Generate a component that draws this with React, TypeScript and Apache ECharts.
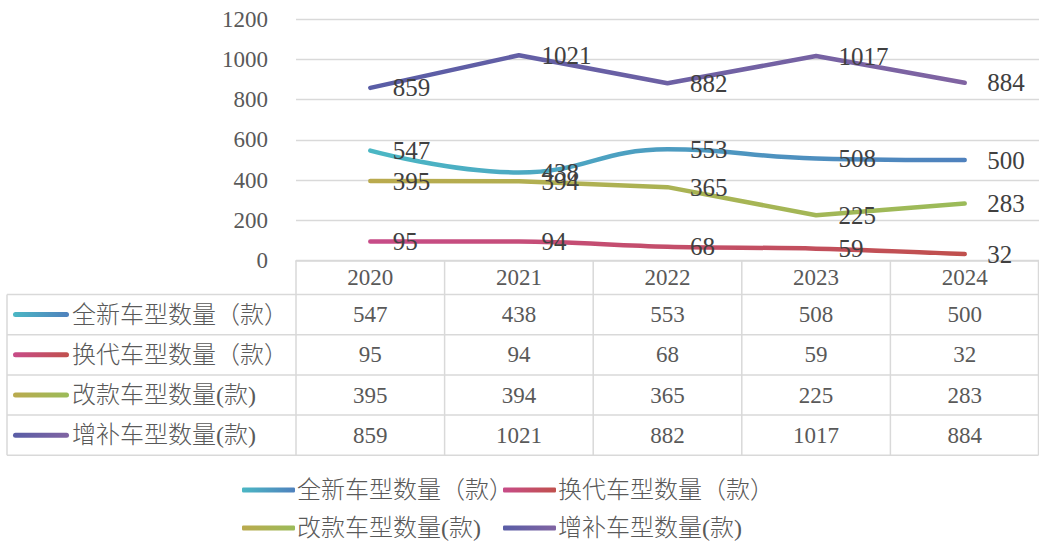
import React, { useEffect, useRef } from 'react';
import * as echarts from 'echarts';

// ---- data ----
const years = ['2020', '2021', '2022', '2023', '2024'];
const seriesNames = ['全新车型数量（款）', '换代车型数量（款）', '改款车型数量(款)', '增补车型数量(款)'];
const newModels = [547, 438, 553, 508, 500];
const replacementModels = [95, 94, 68, 59, 32];
const faceliftModels = [395, 394, 365, 225, 283];
const addedModels = [859, 1021, 882, 1017, 884];
const yMin = 0;
const yMax = 1200;
const yInterval = 200;

// ---- styles ----
const gradientStops: [string, string][] = [
  ['#4BB7C4', '#4F81BD'],
  ['#C74C88', '#C0504D'],
  ['#BAAA4E', '#9BBB59'],
  ['#595DA6', '#8064A2'],
];
const smoothFlags = [0.45, 0.35, false, false];

const SERIF = "'Liberation Serif', 'Times New Roman', serif";
const MIXED = "'Liberation Serif', 'Noto Sans CJK SC', sans-serif";
const GRID_COLOR = '#D9D9D9';
const TEXT_COLOR = '#595959';
const CJK_SIZE = 24;

const grad = (i: number) =>
  new echarts.graphic.LinearGradient(0, 0, 1, 0, [
    { offset: 0, color: gradientStops[i][0] },
    { offset: 1, color: gradientStops[i][1] },
  ]);

export default function App() {
  const ref = useRef<HTMLDivElement>(null);

  useEffect(() => {
    if (!ref.current) return;
    const chart = echarts.init(ref.current, null, { renderer: 'svg' });
    const allData = [newModels, replacementModels, faceliftModels, addedModels];

    chart.setOption({
      animation: false,
      grid: { left: 296, right: 0, top: 19.3, bottom: 281.5, containLabel: false },
      xAxis: {
        type: 'category',
        data: years,
        boundaryGap: true,
        axisLine: { show: true, lineStyle: { color: GRID_COLOR, width: 1.5 } },
        axisTick: { show: false },
        axisLabel: { color: TEXT_COLOR, fontSize: 23, fontFamily: SERIF, margin: 5 },
        splitLine: { show: false },
      },
      yAxis: {
        type: 'value',
        min: yMin,
        max: yMax,
        interval: yInterval,
        axisLine: { show: false },
        axisTick: { show: false },
        axisLabel: {
          color: TEXT_COLOR,
          fontSize: 23,
          fontFamily: SERIF,
          margin: 28,
          formatter: (v: number) => String(v),
        },
        splitLine: { lineStyle: { color: GRID_COLOR, width: 1.3 } },
      },
      legend: seriesNames.map((n, i) => ({
        data: [n],
        left: i % 2 === 0 ? 242 : 503,
        top: i < 2 ? 478 : 516,
        icon: 'roundRect',
        itemWidth: 53,
        itemHeight: 5,
        itemGap: 0,
        padding: 0,
        selectedMode: false,
        itemStyle: { color: grad(i) },
        textStyle: {
          color: TEXT_COLOR,
          fontSize: CJK_SIZE,
          fontWeight: 300,
          fontFamily: MIXED,
          padding: [0, 0, 0, -3],
        },
      })),
      series: allData.map((d, i) => ({
        name: seriesNames[i],
        type: 'line',
        data: d,
        smooth: smoothFlags[i],
        symbol: 'circle',
        symbolSize: 1,
        itemStyle: { color: 'rgba(0,0,0,0)' },
        lineStyle: { width: 4.5, color: grad(i), cap: 'round', join: 'round' },
        label: {
          show: true,
          position: 'right',
          distance: 22,
          color: '#404040',
          fontSize: 25,
          fontFamily: SERIF,
        },
        z: 2,
      })),
    });

    // ---- data table under the plot, positioned through the axis scales ----
    const centers = years.map((y) => chart.convertToPixel({ xAxisIndex: 0 }, y) as number);
    const band = centers.length > 1 ? centers[1] - centers[0] : 148;
    const bounds = [centers[0] - band / 2, ...centers.map((c) => c + band / 2)];
    const top = chart.convertToPixel({ yAxisIndex: 0 }, 0) as number;
    const headerH = 34;
    const rowH = 40.2;
    const leftX = 7;
    const rightX = Math.min(bounds[bounds.length - 1], 1038.5);
    const rowTops = allData.map((_, r) => top + headerH + r * rowH);
    const tableBottom = top + headerH + allData.length * rowH;

    const graphics: any[] = [];
    const lineStyle = { stroke: GRID_COLOR, lineWidth: 1.5 };
    [...rowTops, tableBottom].forEach((y) => {
      graphics.push({ type: 'line', shape: { x1: leftX, y1: y, x2: rightX, y2: y }, style: lineStyle, silent: true });
    });
    graphics.push({ type: 'line', shape: { x1: leftX, y1: rowTops[0], x2: leftX, y2: tableBottom }, style: lineStyle, silent: true });
    bounds.forEach((b, k) => {
      const x = k === bounds.length - 1 ? rightX : b;
      graphics.push({ type: 'line', shape: { x1: x, y1: top, x2: x, y2: tableBottom }, style: lineStyle, silent: true });
    });
    allData.forEach((d, r) => {
      const cy = rowTops[r] + rowH / 2;
      graphics.push({
        type: 'rect',
        shape: { x: 13, y: cy - 2.5, width: 56, height: 5, r: 2.5 },
        style: { fill: grad(r) },
        silent: true,
      });
      graphics.push({
        type: 'text',
        x: 72,
        y: cy,
        style: {
          text: seriesNames[r],
          fill: TEXT_COLOR,
          font: `300 ${CJK_SIZE}px ${MIXED}`,
          verticalAlign: 'middle',
          align: 'left',
        },
        silent: true,
      });
      d.forEach((v, c) => {
        graphics.push({
          type: 'text',
          x: centers[c],
          y: cy,
          style: { text: String(v), fill: TEXT_COLOR, font: `23px ${SERIF}`, verticalAlign: 'middle', align: 'center' },
          silent: true,
        });
      });
    });
    chart.setOption({ graphic: graphics });

    return () => chart.dispose();
  }, []);

  return <div ref={ref} style={{ position: 'absolute', left: 0, top: 0, width: 1039, height: 542 }} />;
}
